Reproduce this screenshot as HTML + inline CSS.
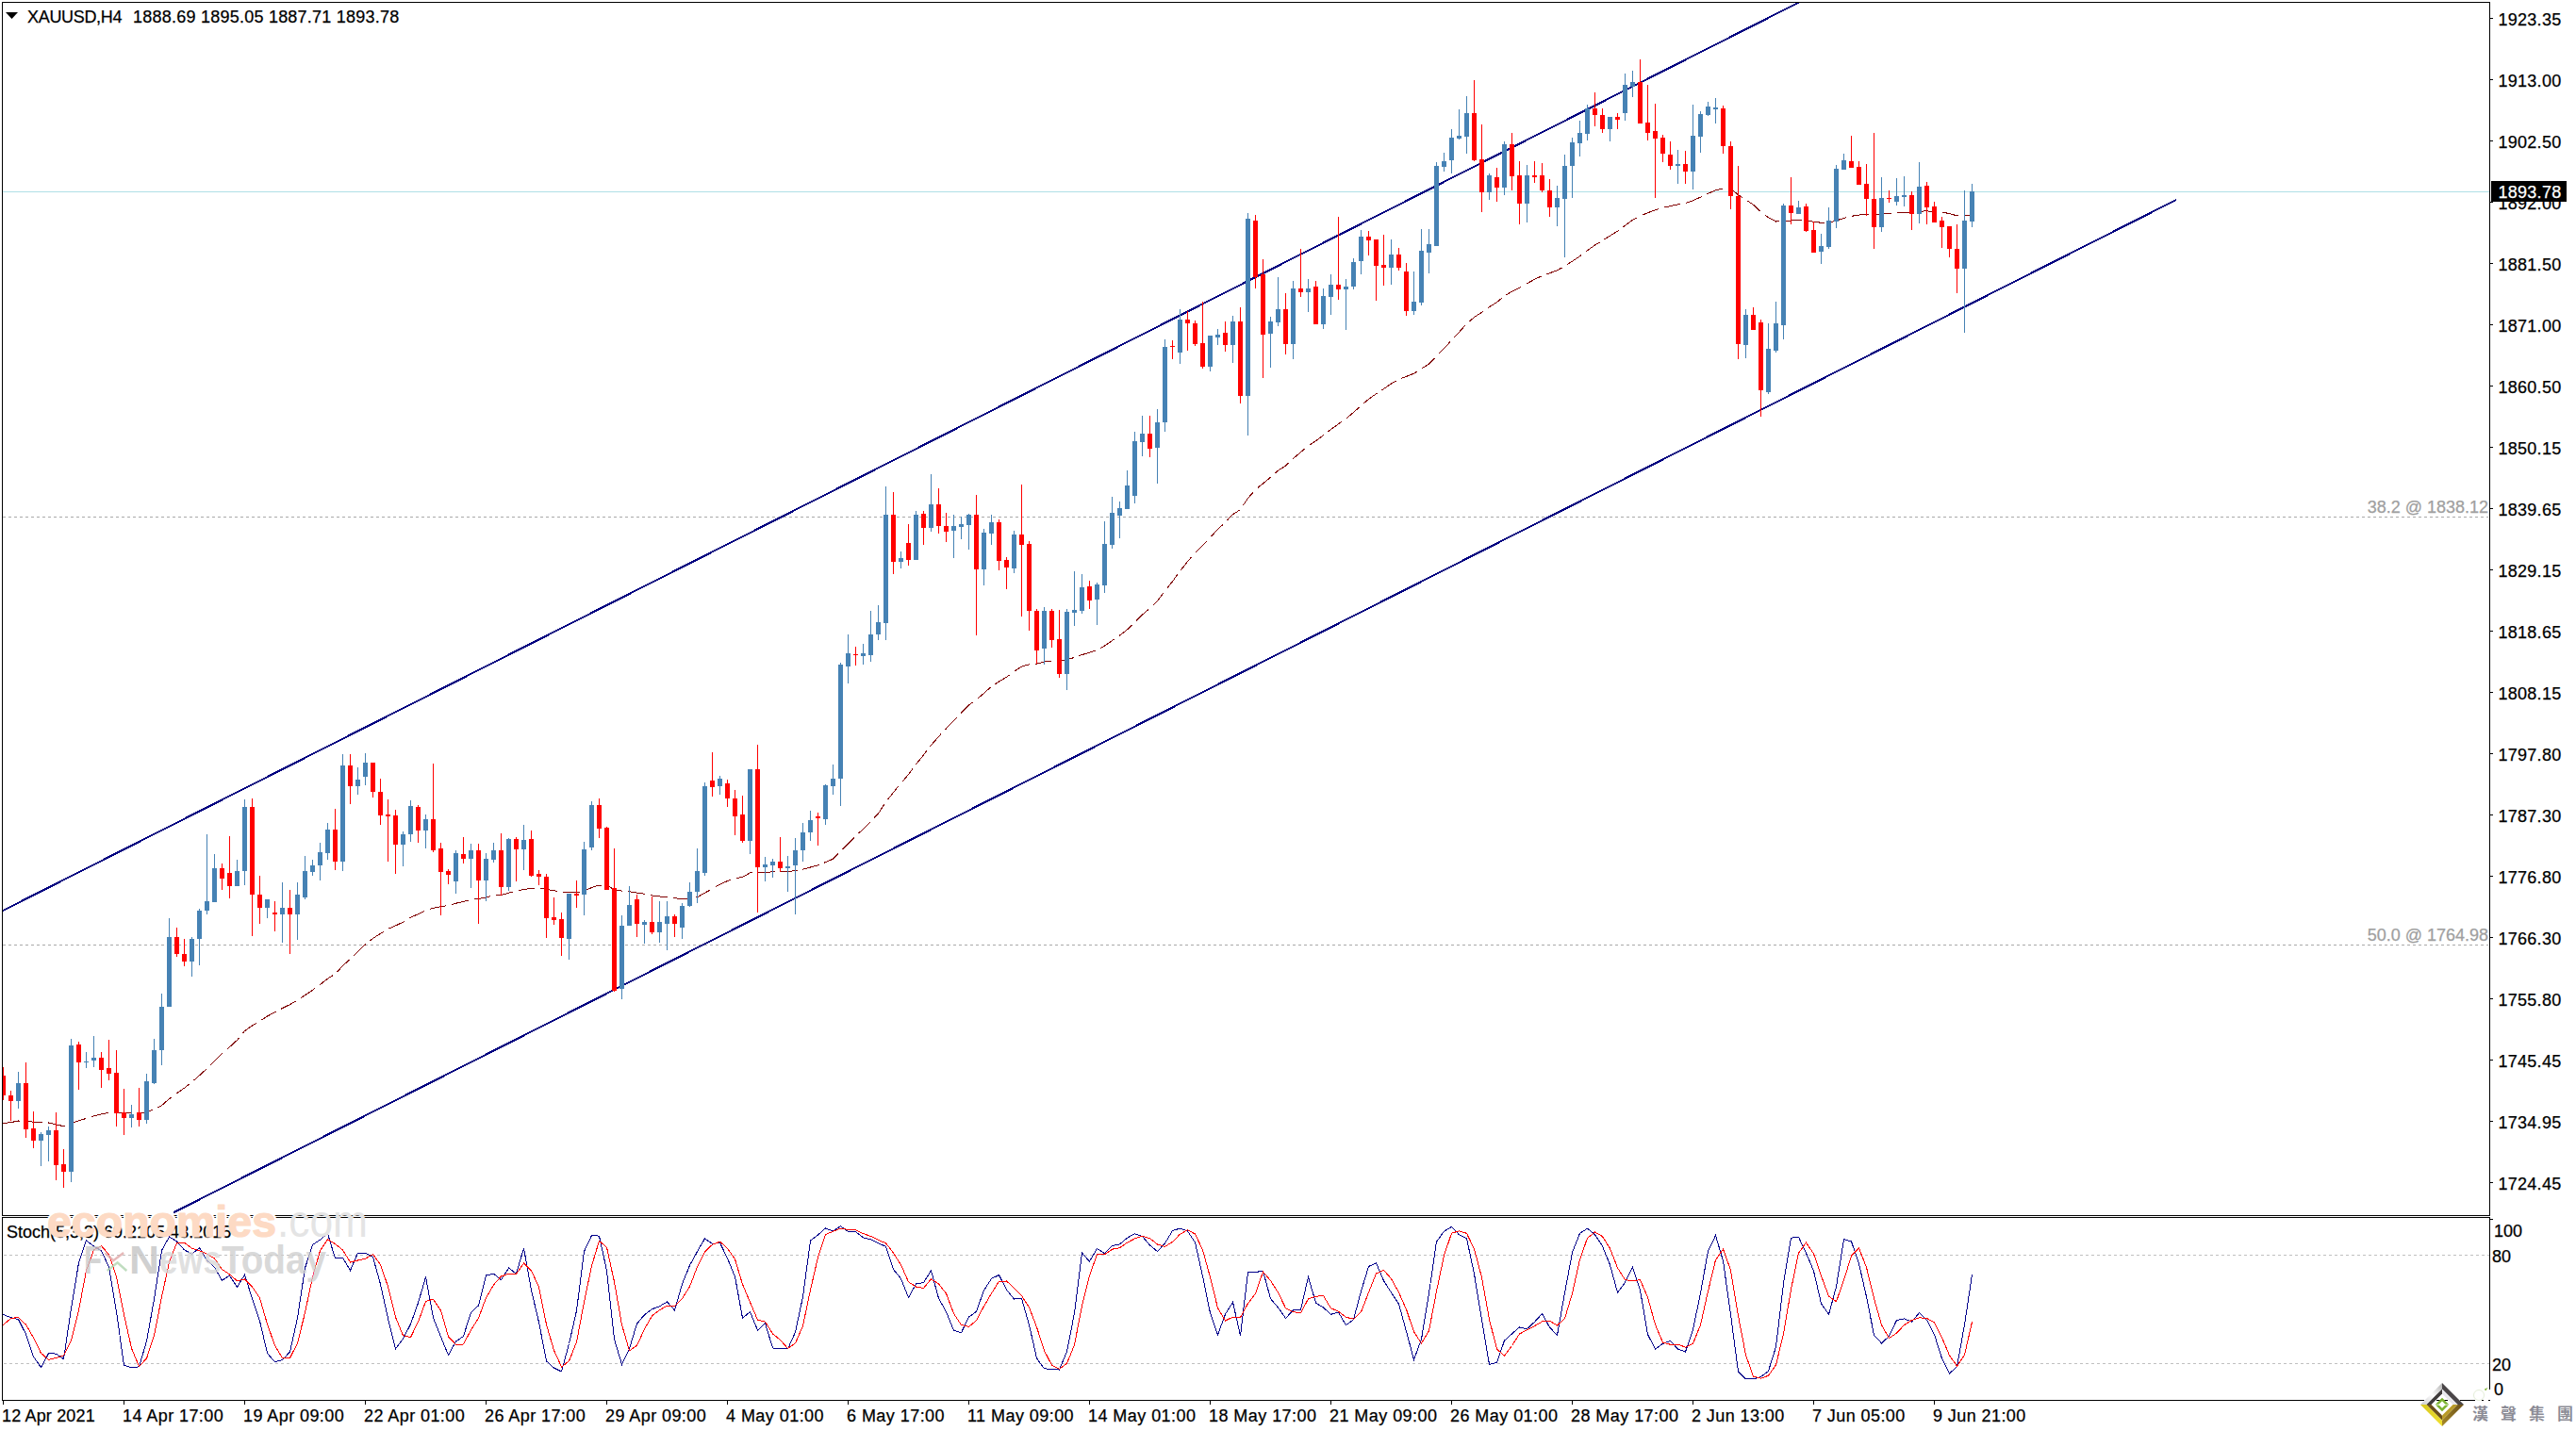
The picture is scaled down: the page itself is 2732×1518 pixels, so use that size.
<!DOCTYPE html><html><head><meta charset="utf-8"><title>XAUUSD,H4</title><style>
html,body{margin:0;padding:0;background:#fff;}
body{width:2732px;height:1518px;overflow:hidden;position:relative;}
svg{position:absolute;left:0;top:0;}
.t{font-family:"Liberation Sans",Arial,sans-serif;font-size:18px;fill:#000;stroke:#000;stroke-width:0.25px;}
</style></head><body>
<svg width="2732" height="1518" viewBox="0 0 2732 1518">
<defs><clipPath id="cm"><rect x="3" y="3" width="2637" height="1286"/></clipPath>
<clipPath id="ci"><rect x="3" y="1292" width="2637" height="193"/></clipPath></defs>
<g clip-path="url(#cm)">
<rect x="3" y="203" width="2637" height="1" fill="#B0E0E6" shape-rendering="crispEdges"/>
<line x1="3" y1="548.5" x2="2639" y2="548.5" stroke="#A9A9A9" stroke-width="1" stroke-dasharray="3 3" shape-rendering="crispEdges"/>
<line x1="3" y1="1002.5" x2="2639" y2="1002.5" stroke="#A9A9A9" stroke-width="1" stroke-dasharray="3 3" shape-rendering="crispEdges"/>
<line x1="0" y1="967.52" x2="1912" y2="0.43" stroke="#000080" stroke-width="2" shape-rendering="crispEdges"/>
<line x1="184.8" y1="1285.90" x2="2307.5" y2="212.24" stroke="#000080" stroke-width="2" shape-rendering="crispEdges" stroke-linecap="round"/>
<polyline points="3.5,1191.56 11.5,1190.62 19.5,1189.00 27.5,1189.35 35.5,1190.16 43.5,1190.67 51.5,1191.00 59.5,1192.77 67.5,1194.74 75.5,1191.38 83.5,1188.86 91.5,1186.39 99.5,1183.87 107.5,1181.95 115.5,1180.27 123.5,1180.30 131.5,1180.52 139.5,1180.58 147.5,1180.87 155.5,1179.54 163.5,1176.96 171.5,1172.67 179.5,1165.68 187.5,1159.66 195.5,1154.18 203.5,1147.96 211.5,1140.80 219.5,1133.53 227.5,1125.21 235.5,1117.63 243.5,1110.67 251.5,1103.37 259.5,1093.67 267.5,1087.99 275.5,1083.09 283.5,1078.05 291.5,1073.81 299.5,1069.47 307.5,1065.59 315.5,1061.03 323.5,1055.68 331.5,1050.29 339.5,1044.56 347.5,1038.13 355.5,1033.27 363.5,1024.59 371.5,1017.14 379.5,1009.68 387.5,1001.82 395.5,995.47 403.5,990.36 411.5,985.47 419.5,981.94 427.5,978.14 435.5,973.31 443.5,969.70 451.5,965.76 459.5,963.25 467.5,961.75 475.5,960.43 483.5,958.25 491.5,956.39 499.5,954.26 507.5,953.47 515.5,951.82 523.5,949.86 531.5,949.53 539.5,947.19 547.5,945.39 555.5,943.27 563.5,942.70 571.5,942.20 579.5,943.46 587.5,944.74 595.5,946.71 603.5,946.76 611.5,946.89 619.5,945.10 627.5,941.52 635.5,939.06 643.5,939.24 651.5,943.61 659.5,945.14 667.5,945.70 675.5,947.07 683.5,948.29 691.5,949.88 699.5,950.96 707.5,951.80 715.5,952.89 723.5,953.22 731.5,952.92 739.5,951.77 747.5,947.16 755.5,942.76 763.5,938.17 771.5,934.59 779.5,931.91 787.5,930.37 795.5,925.89 803.5,925.65 811.5,925.32 819.5,924.88 827.5,924.72 835.5,924.50 843.5,923.63 851.5,922.05 859.5,920.01 867.5,917.95 875.5,914.62 883.5,911.14 891.5,903.05 899.5,894.81 907.5,886.99 915.5,879.38 923.5,871.28 931.5,862.99 939.5,850.57 947.5,840.58 955.5,830.85 963.5,821.55 971.5,810.75 979.5,800.90 987.5,790.48 995.5,781.36 1003.5,772.82 1011.5,764.40 1019.5,756.24 1027.5,748.00 1035.5,742.34 1043.5,735.39 1051.5,728.29 1059.5,723.05 1067.5,718.29 1075.5,712.36 1083.5,707.09 1091.5,704.77 1099.5,704.19 1107.5,701.99 1115.5,701.09 1123.5,701.62 1131.5,699.56 1139.5,697.51 1147.5,694.58 1155.5,692.32 1163.5,689.48 1171.5,685.08 1179.5,679.56 1187.5,674.05 1195.5,667.82 1203.5,659.96 1211.5,652.14 1219.5,645.25 1227.5,637.49 1235.5,626.90 1243.5,616.76 1251.5,605.88 1259.5,595.57 1267.5,586.53 1275.5,578.79 1283.5,570.06 1291.5,561.63 1299.5,553.95 1307.5,545.61 1315.5,540.70 1323.5,528.59 1331.5,519.38 1339.5,512.94 1347.5,506.21 1355.5,499.23 1363.5,493.96 1371.5,486.60 1379.5,479.66 1387.5,472.86 1395.5,467.81 1403.5,461.80 1411.5,455.55 1419.5,449.73 1427.5,444.03 1435.5,437.53 1443.5,430.23 1451.5,423.35 1459.5,417.81 1467.5,412.57 1475.5,407.00 1483.5,402.19 1491.5,399.36 1499.5,396.26 1507.5,391.17 1515.5,385.99 1523.5,377.77 1531.5,369.67 1539.5,360.91 1547.5,352.41 1555.5,343.30 1563.5,336.50 1571.5,331.31 1579.5,325.60 1587.5,320.62 1595.5,314.06 1603.5,309.08 1611.5,305.42 1619.5,300.74 1627.5,296.30 1635.5,292.62 1643.5,289.78 1651.5,286.67 1659.5,282.31 1667.5,277.17 1675.5,271.84 1683.5,265.69 1691.5,260.07 1699.5,255.25 1707.5,250.11 1715.5,245.28 1723.5,239.19 1731.5,233.22 1739.5,229.22 1747.5,225.77 1755.5,222.68 1763.5,220.34 1771.5,218.62 1779.5,216.89 1787.5,215.52 1795.5,212.73 1803.5,209.12 1811.5,205.37 1819.5,201.80 1827.5,199.97 1835.5,200.28 1843.5,206.74 1851.5,211.75 1859.5,217.17 1867.5,224.90 1875.5,230.61 1883.5,235.03 1891.5,234.36 1899.5,234.02 1907.5,233.45 1915.5,233.91 1923.5,235.24 1931.5,236.26 1939.5,236.19 1947.5,233.96 1955.5,231.45 1963.5,229.34 1971.5,228.02 1979.5,227.36 1987.5,227.89 1995.5,227.19 2003.5,226.55 2011.5,225.82 2019.5,225.09 2027.5,225.16 2035.5,224.09 2043.5,223.93 2051.5,224.40 2059.5,225.05 2067.5,226.59 2075.5,228.86 2083.5,229.08 2091.5,228.06" fill="none" stroke="#800000" stroke-width="1" stroke-dasharray="18 6" shape-rendering="crispEdges"/>
<path d="M19 1137h1v39h-1zM17 1149h5v19h-5zM43 1201h1v36h-1zM41 1203h5v7h-5zM51 1195h1v37h-1zM49 1199h5v5h-5zM75 1102h1v152h-1zM73 1109h5v134h-5zM91 1116h1v17h-1zM89 1126h5v1h-5zM99 1099h1v33h-1zM97 1122h5v3h-5zM139 1172h1v24h-1zM137 1182h5v4h-5zM155 1139h1v53h-1zM153 1147h5v41h-5zM163 1102h1v48h-1zM161 1114h5v35h-5zM171 1054h1v76h-1zM169 1068h5v46h-5zM179 974h1v94h-1zM177 994h5v74h-5zM203 994h1v42h-1zM201 996h5v24h-5zM211 964h1v60h-1zM209 966h5v30h-5zM219 885h1v85h-1zM217 956h5v10h-5zM227 906h1v51h-1zM225 921h5v36h-5zM251 912h1v28h-1zM249 924h5v16h-5zM259 848h1v91h-1zM257 856h5v68h-5zM283 954h1v20h-1zM281 954h5v9h-5zM299 936h1v64h-1zM297 963h5v7h-5zM315 936h1v61h-1zM313 949h5v21h-5zM323 908h1v46h-1zM321 924h5v28h-5zM331 912h1v17h-1zM329 918h5v7h-5zM339 894h1v40h-1zM337 904h5v14h-5zM347 873h1v39h-1zM345 880h5v25h-5zM363 800h1v124h-1zM361 812h5v102h-5zM379 814h1v29h-1zM377 827h5v7h-5zM387 799h1v34h-1zM385 809h5v15h-5zM427 882h1v37h-1zM425 885h5v11h-5zM435 849h1v44h-1zM433 855h5v30h-5zM451 864h1v36h-1zM449 869h5v12h-5zM483 902h1v46h-1zM481 905h5v30h-5zM499 895h1v47h-1zM497 902h5v9h-5zM515 905h1v51h-1zM513 911h5v23h-5zM523 894h1v21h-1zM521 902h5v10h-5zM539 889h1v56h-1zM537 890h5v51h-5zM555 875h1v48h-1zM553 891h5v10h-5zM603 948h1v70h-1zM601 948h5v48h-5zM619 893h1v78h-1zM617 901h5v48h-5zM627 850h1v52h-1zM625 854h5v45h-5zM659 971h1v89h-1zM657 982h5v67h-5zM667 940h1v42h-1zM665 960h5v22h-5zM683 976h1v25h-1zM681 978h5v3h-5zM699 956h1v44h-1zM697 978h5v11h-5zM707 956h1v52h-1zM705 972h5v8h-5zM723 958h1v38h-1zM721 961h5v23h-5zM731 936h1v26h-1zM729 946h5v15h-5zM739 900h1v58h-1zM737 924h5v22h-5zM747 830h1v99h-1zM745 834h5v92h-5zM763 823h1v20h-1zM761 826h5v8h-5zM795 816h1v90h-1zM793 816h5v76h-5zM811 909h1v26h-1zM809 917h5v3h-5zM819 911h1v20h-1zM817 914h5v4h-5zM835 908h1v38h-1zM833 919h5v2h-5zM843 889h1v81h-1zM841 902h5v16h-5zM851 873h1v41h-1zM849 883h5v19h-5zM859 860h1v32h-1zM857 870h5v13h-5zM875 832h1v43h-1zM873 833h5v36h-5zM883 811h1v32h-1zM881 826h5v8h-5zM891 703h1v152h-1zM889 705h5v121h-5zM899 673h1v52h-1zM897 693h5v14h-5zM915 683h1v22h-1zM913 693h5v3h-5zM923 648h1v54h-1zM921 673h5v22h-5zM931 642h1v37h-1zM929 660h5v13h-5zM939 516h1v163h-1zM937 546h5v115h-5zM955 585h1v18h-1zM953 592h5v4h-5zM971 542h1v52h-1zM969 546h5v48h-5zM987 503h1v61h-1zM985 535h5v25h-5zM1011 546h1v46h-1zM1009 558h5v5h-5zM1019 548h1v24h-1zM1017 556h5v3h-5zM1027 545h1v38h-1zM1025 546h5v11h-5zM1043 561h1v60h-1zM1041 565h5v39h-5zM1051 546h1v32h-1zM1049 554h5v12h-5zM1075 563h1v45h-1zM1073 567h5v36h-5zM1107 644h1v61h-1zM1105 648h5v40h-5zM1131 646h1v86h-1zM1129 649h5v66h-5zM1139 606h1v58h-1zM1137 647h5v3h-5zM1147 609h1v42h-1zM1145 623h5v25h-5zM1163 618h1v45h-1zM1161 620h5v16h-5zM1171 553h1v76h-1zM1169 577h5v44h-5zM1179 527h1v55h-1zM1177 544h5v34h-5zM1187 532h1v39h-1zM1185 539h5v8h-5zM1195 499h1v41h-1zM1193 515h5v25h-5zM1203 458h1v76h-1zM1201 468h5v58h-5zM1211 441h1v43h-1zM1209 460h5v9h-5zM1227 434h1v79h-1zM1225 448h5v27h-5zM1235 360h1v98h-1zM1233 368h5v80h-5zM1251 328h1v58h-1zM1249 339h5v35h-5zM1283 356h1v38h-1zM1281 356h5v33h-5zM1291 349h1v17h-1zM1289 355h5v3h-5zM1307 335h1v50h-1zM1305 341h5v25h-5zM1323 226h1v236h-1zM1321 232h5v188h-5zM1347 336h1v54h-1zM1345 341h5v13h-5zM1355 294h1v52h-1zM1353 328h5v14h-5zM1371 298h1v83h-1zM1369 306h5v59h-5zM1387 296h1v35h-1zM1385 306h5v4h-5zM1403 306h1v43h-1zM1401 314h5v30h-5zM1411 291h1v43h-1zM1409 302h5v13h-5zM1427 296h1v54h-1zM1425 304h5v3h-5zM1435 274h1v33h-1zM1433 278h5v26h-5zM1443 244h1v47h-1zM1441 251h5v26h-5zM1475 254h1v48h-1zM1473 270h5v14h-5zM1499 288h1v46h-1zM1497 320h5v10h-5zM1507 243h1v81h-1zM1505 266h5v55h-5zM1515 243h1v47h-1zM1513 259h5v9h-5zM1523 172h1v89h-1zM1521 176h5v85h-5zM1531 162h1v20h-1zM1529 171h5v6h-5zM1539 137h1v47h-1zM1537 146h5v24h-5zM1547 116h1v32h-1zM1545 144h5v3h-5zM1555 102h1v61h-1zM1553 120h5v25h-5zM1579 184h1v28h-1zM1577 186h5v18h-5zM1595 150h1v57h-1zM1593 153h5v46h-5zM1619 175h1v61h-1zM1617 186h5v30h-5zM1651 197h1v43h-1zM1649 210h5v10h-5zM1659 164h1v109h-1zM1657 176h5v35h-5zM1667 146h1v64h-1zM1665 151h5v25h-5zM1675 128h1v38h-1zM1673 141h5v11h-5zM1683 111h1v38h-1zM1681 115h5v27h-5zM1707 124h1v26h-1zM1705 124h5v13h-5zM1723 78h1v50h-1zM1721 90h5v30h-5zM1731 75h1v28h-1zM1729 87h5v5h-5zM1779 159h1v36h-1zM1777 174h5v2h-5zM1795 111h1v90h-1zM1793 144h5v38h-5zM1803 118h1v44h-1zM1801 121h5v24h-5zM1811 108h1v15h-1zM1809 113h5v9h-5zM1819 104h1v27h-1zM1817 114h5v2h-5zM1851 328h1v52h-1zM1849 334h5v32h-5zM1875 343h1v75h-1zM1873 370h5v46h-5zM1883 320h1v54h-1zM1881 343h5v29h-5zM1891 216h1v144h-1zM1889 218h5v127h-5zM1907 213h1v14h-1zM1905 220h5v7h-5zM1931 248h1v32h-1zM1929 261h5v6h-5zM1939 220h1v44h-1zM1937 234h5v28h-5zM1947 175h1v67h-1zM1945 179h5v56h-5zM1955 163h1v17h-1zM1953 170h5v10h-5zM1995 188h1v58h-1zM1993 210h5v31h-5zM2011 189h1v29h-1zM2009 208h5v6h-5zM2019 187h1v32h-1zM2017 207h5v2h-5zM2035 172h1v65h-1zM2033 198h5v29h-5zM2083 202h1v151h-1zM2081 234h5v51h-5zM2091 195h1v46h-1zM2089 203h5v32h-5z" fill="#4682B4" shape-rendering="crispEdges"/>
<path d="M3 1132h1v35h-1zM1 1141h5v21h-5zM11 1157h1v32h-1zM9 1162h5v6h-5zM27 1127h1v80h-1zM25 1149h5v49h-5zM35 1179h1v39h-1zM33 1197h5v13h-5zM59 1180h1v72h-1zM57 1199h5v37h-5zM67 1219h1v41h-1zM65 1235h5v8h-5zM83 1105h1v51h-1zM81 1108h5v19h-5zM107 1116h1v38h-1zM105 1122h5v13h-5zM115 1103h1v43h-1zM113 1133h5v6h-5zM123 1114h1v81h-1zM121 1138h5v43h-5zM131 1155h1v49h-1zM129 1180h5v6h-5zM147 1154h1v41h-1zM145 1180h5v8h-5zM187 984h1v31h-1zM185 994h5v18h-5zM195 996h1v29h-1zM193 1012h5v8h-5zM235 916h1v28h-1zM233 921h5v11h-5zM243 887h1v66h-1zM241 926h5v14h-5zM267 847h1v146h-1zM265 856h5v93h-5zM275 929h1v51h-1zM273 949h5v14h-5zM291 956h1v32h-1zM289 968h5v2h-5zM307 944h1v68h-1zM305 963h5v7h-5zM355 858h1v65h-1zM353 880h5v34h-5zM371 800h1v53h-1zM369 812h5v22h-5zM395 809h1v37h-1zM393 809h5v31h-5zM403 826h1v49h-1zM401 840h5v25h-5zM411 848h1v66h-1zM409 864h5v2h-5zM419 859h1v68h-1zM417 865h5v31h-5zM443 854h1v40h-1zM441 856h5v25h-5zM459 810h1v94h-1zM457 869h5v33h-5zM467 894h1v77h-1zM465 900h5v25h-5zM475 922h1v16h-1zM473 924h5v4h-5zM491 888h1v28h-1zM489 906h5v5h-5zM507 895h1v85h-1zM505 902h5v32h-5zM531 884h1v66h-1zM529 902h5v39h-5zM547 888h1v47h-1zM545 890h5v11h-5zM563 881h1v49h-1zM561 890h5v39h-5zM571 923h1v16h-1zM569 927h5v3h-5zM579 927h1v68h-1zM577 930h5v44h-5zM587 952h1v29h-1zM585 973h5v3h-5zM595 968h1v46h-1zM593 975h5v20h-5zM611 934h1v29h-1zM609 948h5v2h-5zM635 847h1v42h-1zM633 854h5v25h-5zM643 877h1v67h-1zM641 878h5v66h-5zM651 900h1v152h-1zM649 942h5v109h-5zM675 949h1v45h-1zM673 954h5v26h-5zM691 951h1v40h-1zM689 978h5v11h-5zM715 970h1v24h-1zM713 972h5v8h-5zM755 798h1v47h-1zM753 828h5v7h-5zM771 827h1v29h-1zM769 831h5v16h-5zM779 838h1v48h-1zM777 847h5v19h-5zM787 844h1v50h-1zM785 864h5v28h-5zM803 790h1v178h-1zM801 816h5v104h-5zM827 888h1v37h-1zM825 914h5v7h-5zM867 862h1v35h-1zM865 866h5v2h-5zM907 686h1v20h-1zM905 694h5v1h-5zM947 522h1v87h-1zM945 546h5v50h-5zM963 556h1v44h-1zM961 576h5v18h-5zM979 542h1v36h-1zM977 545h5v15h-5zM995 518h1v48h-1zM993 535h5v23h-5zM1003 544h1v31h-1zM1001 558h5v6h-5zM1035 525h1v149h-1zM1033 546h5v58h-5zM1059 551h1v54h-1zM1057 554h5v41h-5zM1067 591h1v34h-1zM1065 594h5v8h-5zM1083 514h1v140h-1zM1081 567h5v11h-5zM1091 574h1v95h-1zM1089 577h5v71h-5zM1099 646h1v58h-1zM1097 648h5v42h-5zM1115 646h1v41h-1zM1113 648h5v31h-5zM1123 647h1v72h-1zM1121 678h5v37h-5zM1155 616h1v30h-1zM1153 622h5v15h-5zM1219 441h1v44h-1zM1217 460h5v16h-5zM1243 361h1v20h-1zM1241 367h5v1h-5zM1259 330h1v42h-1zM1257 339h5v4h-5zM1267 340h1v27h-1zM1265 343h5v22h-5zM1275 320h1v71h-1zM1273 364h5v25h-5zM1299 341h1v32h-1zM1297 353h5v13h-5zM1315 326h1v102h-1zM1313 341h5v79h-5zM1331 228h1v78h-1zM1329 234h5v60h-5zM1339 275h1v126h-1zM1337 291h5v64h-5zM1363 311h1v65h-1zM1361 328h5v37h-5zM1379 264h1v51h-1zM1377 306h5v4h-5zM1395 298h1v46h-1zM1393 304h5v40h-5zM1419 230h1v88h-1zM1417 302h5v5h-5zM1451 245h1v26h-1zM1449 251h5v4h-5zM1459 254h1v65h-1zM1457 254h5v28h-5zM1467 249h1v54h-1zM1465 281h5v3h-5zM1483 263h1v24h-1zM1481 270h5v14h-5zM1491 279h1v56h-1zM1489 288h5v42h-5zM1563 85h1v86h-1zM1561 120h5v50h-5zM1571 132h1v93h-1zM1569 169h5v35h-5zM1587 178h1v36h-1zM1585 188h5v11h-5zM1603 141h1v61h-1zM1601 153h5v34h-5zM1611 171h1v67h-1zM1609 186h5v30h-5zM1627 171h1v23h-1zM1625 186h5v2h-5zM1635 173h1v31h-1zM1633 186h5v16h-5zM1643 190h1v40h-1zM1641 202h5v18h-5zM1691 98h1v36h-1zM1689 115h5v7h-5zM1699 115h1v26h-1zM1697 122h5v15h-5zM1715 120h1v17h-1zM1713 124h5v3h-5zM1739 63h1v68h-1zM1737 87h5v44h-5zM1747 90h1v59h-1zM1745 130h5v11h-5zM1755 110h1v100h-1zM1753 139h5v8h-5zM1763 143h1v29h-1zM1761 146h5v17h-5zM1771 150h1v30h-1zM1769 164h5v12h-5zM1787 160h1v35h-1zM1785 174h5v8h-5zM1827 112h1v51h-1zM1825 115h5v40h-5zM1835 150h1v72h-1zM1833 155h5v53h-5zM1843 176h1v205h-1zM1841 208h5v157h-5zM1859 326h1v24h-1zM1857 334h5v16h-5zM1867 339h1v103h-1zM1865 342h5v72h-5zM1899 188h1v50h-1zM1897 218h5v8h-5zM1915 216h1v30h-1zM1913 219h5v26h-5zM1923 235h1v33h-1zM1921 244h5v24h-5zM1963 144h1v34h-1zM1961 171h5v7h-5zM1971 171h1v25h-1zM1969 177h5v19h-5zM1979 174h1v55h-1zM1977 195h5v16h-5zM1987 141h1v123h-1zM1985 211h5v30h-5zM2003 202h1v13h-1zM2001 210h5v1h-5zM2027 203h1v41h-1zM2025 207h5v20h-5zM2043 193h1v45h-1zM2041 197h5v23h-5zM2051 214h1v22h-1zM2049 219h5v17h-5zM2059 230h1v33h-1zM2057 234h5v7h-5zM2067 240h1v33h-1zM2065 240h5v24h-5zM2075 238h1v73h-1zM2073 264h5v21h-5z" fill="#FF0000" shape-rendering="crispEdges"/>
</g>
<g clip-path="url(#ci)">
<line x1="4" y1="1331.5" x2="2640" y2="1331.5" stroke="#C0C0C0" stroke-width="1" stroke-dasharray="3 3" shape-rendering="crispEdges"/>
<line x1="4" y1="1446.5" x2="2640" y2="1446.5" stroke="#C0C0C0" stroke-width="1" stroke-dasharray="3 3" shape-rendering="crispEdges"/>
<polyline points="3.0,1394.2 11.5,1397.7 19.5,1399.6 27.5,1415.3 35.5,1439.2 43.5,1450.5 51.5,1435.7 59.5,1436.1 67.5,1441.8 75.5,1388.0 83.5,1339.6 91.5,1315.9 99.5,1322.1 107.5,1326.7 115.5,1344.0 123.5,1391.5 131.5,1448.4 139.5,1450.6 147.5,1449.9 155.5,1422.5 163.5,1378.1 171.5,1326.5 179.5,1312.0 187.5,1316.9 195.5,1325.9 203.5,1330.2 211.5,1323.8 219.5,1336.9 227.5,1344.4 235.5,1358.2 243.5,1353.2 251.5,1365.4 259.5,1352.3 267.5,1377.5 275.5,1401.3 283.5,1435.5 291.5,1444.8 299.5,1442.5 307.5,1434.0 315.5,1398.1 323.5,1345.1 331.5,1320.6 339.5,1315.2 347.5,1308.5 355.5,1335.0 363.5,1334.3 371.5,1347.6 379.5,1329.1 387.5,1329.1 395.5,1333.4 403.5,1362.3 411.5,1398.6 419.5,1430.9 427.5,1420.1 435.5,1404.6 443.5,1382.2 451.5,1354.6 459.5,1397.8 467.5,1418.1 475.5,1437.5 483.5,1423.1 491.5,1417.5 499.5,1392.2 507.5,1384.9 515.5,1353.0 523.5,1351.1 531.5,1357.7 539.5,1345.0 547.5,1351.2 555.5,1324.0 563.5,1368.6 571.5,1402.6 579.5,1443.9 587.5,1451.1 595.5,1454.9 603.5,1425.5 611.5,1390.4 619.5,1327.6 627.5,1310.5 635.5,1311.1 643.5,1347.9 651.5,1420.5 659.5,1447.4 667.5,1430.6 675.5,1404.1 683.5,1394.8 691.5,1388.8 699.5,1385.7 707.5,1381.0 715.5,1389.9 723.5,1362.0 731.5,1342.3 739.5,1327.7 747.5,1313.8 755.5,1319.5 763.5,1318.3 771.5,1334.9 779.5,1354.2 787.5,1398.2 795.5,1391.6 803.5,1411.2 811.5,1403.6 819.5,1430.0 827.5,1430.4 835.5,1431.0 843.5,1413.2 851.5,1375.6 859.5,1316.0 867.5,1309.9 875.5,1303.0 883.5,1305.9 891.5,1300.7 899.5,1306.5 907.5,1306.7 915.5,1312.8 923.5,1314.9 931.5,1318.7 939.5,1322.4 947.5,1346.5 955.5,1356.4 963.5,1376.5 971.5,1362.0 979.5,1360.6 987.5,1347.9 995.5,1377.3 1003.5,1391.5 1011.5,1411.3 1019.5,1413.7 1027.5,1397.1 1035.5,1391.3 1043.5,1368.7 1051.5,1356.4 1059.5,1352.5 1067.5,1368.1 1075.5,1378.1 1083.5,1377.3 1091.5,1405.4 1099.5,1440.9 1107.5,1451.9 1115.5,1452.3 1123.5,1453.1 1131.5,1433.6 1139.5,1392.9 1147.5,1329.0 1155.5,1338.2 1163.5,1324.5 1171.5,1329.6 1179.5,1321.6 1187.5,1319.9 1195.5,1313.1 1203.5,1308.7 1211.5,1311.4 1219.5,1321.0 1227.5,1327.5 1235.5,1318.9 1243.5,1305.5 1251.5,1303.1 1259.5,1306.0 1267.5,1317.9 1275.5,1353.9 1283.5,1392.9 1291.5,1415.9 1299.5,1394.1 1307.5,1381.3 1315.5,1416.9 1323.5,1350.0 1331.5,1349.5 1339.5,1348.2 1347.5,1377.7 1355.5,1387.0 1363.5,1398.4 1371.5,1390.0 1379.5,1389.3 1387.5,1354.5 1395.5,1382.1 1403.5,1387.0 1411.5,1394.3 1419.5,1392.1 1427.5,1405.6 1435.5,1399.9 1443.5,1369.8 1451.5,1343.5 1459.5,1339.7 1467.5,1358.6 1475.5,1371.1 1483.5,1383.3 1491.5,1412.4 1499.5,1442.3 1507.5,1420.6 1515.5,1371.9 1523.5,1317.1 1531.5,1306.3 1539.5,1301.3 1547.5,1309.9 1555.5,1313.6 1563.5,1351.4 1571.5,1400.3 1579.5,1447.4 1587.5,1445.4 1595.5,1422.1 1603.5,1414.9 1611.5,1408.0 1619.5,1409.7 1627.5,1402.3 1635.5,1393.6 1643.5,1408.1 1651.5,1416.4 1659.5,1371.3 1667.5,1328.6 1675.5,1308.3 1683.5,1303.2 1691.5,1309.7 1699.5,1321.9 1707.5,1341.7 1715.5,1371.1 1723.5,1360.4 1731.5,1344.2 1739.5,1368.7 1747.5,1415.5 1755.5,1431.1 1763.5,1425.4 1771.5,1422.4 1779.5,1431.0 1787.5,1434.0 1795.5,1410.5 1803.5,1371.7 1811.5,1327.1 1819.5,1310.6 1827.5,1337.6 1835.5,1394.5 1843.5,1455.0 1851.5,1462.9 1859.5,1462.9 1867.5,1460.5 1875.5,1454.4 1883.5,1428.7 1891.5,1361.6 1899.5,1313.2 1907.5,1312.3 1915.5,1329.3 1923.5,1348.2 1931.5,1382.8 1939.5,1394.4 1947.5,1364.9 1955.5,1314.7 1963.5,1317.0 1971.5,1340.4 1979.5,1375.6 1987.5,1416.2 1995.5,1424.9 2003.5,1417.4 2011.5,1400.4 2019.5,1398.9 2027.5,1402.0 2035.5,1392.7 2043.5,1400.4 2051.5,1415.6 2059.5,1441.0 2067.5,1456.9 2075.5,1449.7 2083.5,1405.2 2091.5,1352.3" fill="none" stroke="#00008B" stroke-width="1" shape-rendering="crispEdges"/>
<polyline points="3.0,1405.8 11.5,1398.6 19.5,1397.4 27.5,1405.2 35.5,1419.0 43.5,1435.4 51.5,1442.3 59.5,1440.4 67.5,1437.9 75.5,1422.0 83.5,1389.8 91.5,1347.8 99.5,1325.9 107.5,1321.6 115.5,1330.9 123.5,1354.1 131.5,1394.6 139.5,1430.2 147.5,1449.6 155.5,1441.0 163.5,1416.8 171.5,1375.7 179.5,1338.9 187.5,1318.5 195.5,1318.3 203.5,1324.3 211.5,1326.6 219.5,1330.3 227.5,1335.0 235.5,1346.5 243.5,1351.9 251.5,1358.9 259.5,1356.9 267.5,1365.0 275.5,1377.0 283.5,1404.7 291.5,1427.2 299.5,1440.9 307.5,1440.4 315.5,1424.9 323.5,1392.4 331.5,1354.6 339.5,1326.9 347.5,1314.8 355.5,1319.6 363.5,1326.0 371.5,1339.0 379.5,1337.0 387.5,1335.3 395.5,1330.5 403.5,1341.6 411.5,1364.7 419.5,1397.3 427.5,1416.6 435.5,1418.5 443.5,1402.3 451.5,1380.4 459.5,1378.2 467.5,1390.2 475.5,1417.8 483.5,1426.3 491.5,1426.0 499.5,1410.9 507.5,1398.2 515.5,1376.7 523.5,1363.0 531.5,1354.0 539.5,1351.3 547.5,1351.3 555.5,1340.1 563.5,1347.9 571.5,1365.1 579.5,1405.0 587.5,1432.5 595.5,1450.0 603.5,1443.8 611.5,1423.6 619.5,1381.2 627.5,1342.8 635.5,1316.4 643.5,1323.2 651.5,1359.8 659.5,1405.3 667.5,1432.8 675.5,1427.4 683.5,1409.8 691.5,1395.9 699.5,1389.8 707.5,1385.2 715.5,1385.5 723.5,1377.6 731.5,1364.7 739.5,1344.0 747.5,1327.9 755.5,1320.3 763.5,1317.2 771.5,1324.2 779.5,1335.8 787.5,1362.4 795.5,1381.3 803.5,1400.3 811.5,1402.1 819.5,1414.9 827.5,1421.3 835.5,1430.5 843.5,1424.9 851.5,1406.6 859.5,1368.3 867.5,1333.8 875.5,1309.6 883.5,1306.3 891.5,1303.2 899.5,1304.4 907.5,1304.6 915.5,1308.6 923.5,1311.4 931.5,1315.4 939.5,1318.7 947.5,1329.2 955.5,1341.7 963.5,1359.8 971.5,1365.0 979.5,1366.4 987.5,1356.9 995.5,1361.9 1003.5,1372.2 1011.5,1393.4 1019.5,1405.5 1027.5,1407.4 1035.5,1400.7 1043.5,1385.7 1051.5,1372.1 1059.5,1359.2 1067.5,1359.0 1075.5,1366.2 1083.5,1374.5 1091.5,1386.9 1099.5,1407.9 1107.5,1432.7 1115.5,1448.3 1123.5,1452.4 1131.5,1446.3 1139.5,1426.5 1147.5,1385.2 1155.5,1353.4 1163.5,1330.6 1171.5,1330.8 1179.5,1325.2 1187.5,1323.7 1195.5,1318.2 1203.5,1313.9 1211.5,1311.1 1219.5,1313.7 1227.5,1320.0 1235.5,1322.5 1243.5,1317.3 1251.5,1309.2 1259.5,1304.8 1267.5,1309.0 1275.5,1325.9 1283.5,1354.9 1291.5,1387.6 1299.5,1401.0 1307.5,1397.1 1315.5,1397.5 1323.5,1382.7 1331.5,1372.1 1339.5,1349.2 1347.5,1358.5 1355.5,1371.0 1363.5,1387.7 1371.5,1391.8 1379.5,1392.6 1387.5,1377.9 1395.5,1375.3 1403.5,1374.5 1411.5,1387.8 1419.5,1391.1 1427.5,1397.3 1435.5,1399.2 1443.5,1391.8 1451.5,1371.1 1459.5,1351.0 1467.5,1347.3 1475.5,1356.5 1483.5,1371.0 1491.5,1389.0 1499.5,1412.7 1507.5,1425.1 1515.5,1411.6 1523.5,1369.9 1531.5,1331.7 1539.5,1308.2 1547.5,1305.8 1555.5,1308.3 1563.5,1324.9 1571.5,1355.1 1579.5,1399.7 1587.5,1431.0 1595.5,1438.3 1603.5,1427.5 1611.5,1415.0 1619.5,1410.9 1627.5,1406.7 1635.5,1401.9 1643.5,1401.3 1651.5,1406.0 1659.5,1398.6 1667.5,1372.1 1675.5,1336.1 1683.5,1313.4 1691.5,1307.0 1699.5,1311.6 1707.5,1324.4 1715.5,1344.9 1723.5,1357.7 1731.5,1358.6 1739.5,1357.8 1747.5,1376.2 1755.5,1405.1 1763.5,1424.0 1771.5,1426.3 1779.5,1426.2 1787.5,1429.1 1795.5,1425.2 1803.5,1405.4 1811.5,1369.8 1819.5,1336.5 1827.5,1325.1 1835.5,1347.5 1843.5,1395.7 1851.5,1437.4 1859.5,1460.2 1867.5,1462.1 1875.5,1459.3 1883.5,1447.9 1891.5,1414.9 1899.5,1367.9 1907.5,1329.1 1915.5,1318.3 1923.5,1329.9 1931.5,1353.4 1939.5,1375.1 1947.5,1380.7 1955.5,1358.0 1963.5,1332.2 1971.5,1324.1 1979.5,1344.4 1987.5,1377.4 1995.5,1405.6 2003.5,1419.5 2011.5,1414.2 2019.5,1405.6 2027.5,1400.4 2035.5,1397.8 2043.5,1398.4 2051.5,1402.9 2059.5,1419.0 2067.5,1437.8 2075.5,1449.2 2083.5,1437.2 2091.5,1402.4" fill="none" stroke="#FF0000" stroke-width="1" shape-rendering="crispEdges"/>
</g>
<g fill="#000" shape-rendering="crispEdges">
<rect x="2" y="2" width="2639" height="1"/>
<rect x="2" y="2" width="1" height="1288"/>
<rect x="2640" y="2" width="1" height="1288"/>
<rect x="2" y="1289" width="2639" height="1"/>
<rect x="2" y="1291" width="2639" height="1"/>
<rect x="2" y="1291" width="1" height="195"/>
<rect x="2640" y="1291" width="1" height="183"/>
<rect x="2" y="1485" width="2639" height="1"/>
<rect x="2641" y="19" width="3" height="1"/>
<rect x="2641" y="84" width="3" height="1"/>
<rect x="2641" y="149" width="3" height="1"/>
<rect x="2641" y="214" width="3" height="1"/>
<rect x="2641" y="279" width="3" height="1"/>
<rect x="2641" y="344" width="3" height="1"/>
<rect x="2641" y="409" width="3" height="1"/>
<rect x="2641" y="474" width="3" height="1"/>
<rect x="2641" y="539" width="3" height="1"/>
<rect x="2641" y="604" width="3" height="1"/>
<rect x="2641" y="669" width="3" height="1"/>
<rect x="2641" y="734" width="3" height="1"/>
<rect x="2641" y="799" width="3" height="1"/>
<rect x="2641" y="864" width="3" height="1"/>
<rect x="2641" y="929" width="3" height="1"/>
<rect x="2641" y="994" width="3" height="1"/>
<rect x="2641" y="1059" width="3" height="1"/>
<rect x="2641" y="1124" width="3" height="1"/>
<rect x="2641" y="1189" width="3" height="1"/>
<rect x="2641" y="1254" width="3" height="1"/>
<rect x="2641" y="1293" width="3" height="1"/>
<rect x="3" y="1486" width="1" height="4"/>
<rect x="131" y="1486" width="1" height="4"/>
<rect x="259" y="1486" width="1" height="4"/>
<rect x="387" y="1486" width="1" height="4"/>
<rect x="515" y="1486" width="1" height="4"/>
<rect x="643" y="1486" width="1" height="4"/>
<rect x="771" y="1486" width="1" height="4"/>
<rect x="899" y="1486" width="1" height="4"/>
<rect x="1027" y="1486" width="1" height="4"/>
<rect x="1155" y="1486" width="1" height="4"/>
<rect x="1283" y="1486" width="1" height="4"/>
<rect x="1411" y="1486" width="1" height="4"/>
<rect x="1539" y="1486" width="1" height="4"/>
<rect x="1667" y="1486" width="1" height="4"/>
<rect x="1795" y="1486" width="1" height="4"/>
<rect x="1923" y="1486" width="1" height="4"/>
<rect x="2051" y="1486" width="1" height="4"/>
</g>
<g class="t">
<text x="2649.5" y="26.6" textLength="66.7">1923.35</text>
<text x="2649.5" y="91.6" textLength="66.7">1913.00</text>
<text x="2649.5" y="156.6" textLength="66.7">1902.50</text>
<text x="2649.5" y="221.6" textLength="66.7">1892.00</text>
<text x="2649.5" y="286.6" textLength="66.7">1881.50</text>
<text x="2649.5" y="351.6" textLength="66.7">1871.00</text>
<text x="2649.5" y="416.6" textLength="66.7">1860.50</text>
<text x="2649.5" y="481.6" textLength="66.7">1850.15</text>
<text x="2649.5" y="546.6" textLength="66.7">1839.65</text>
<text x="2649.5" y="611.6" textLength="66.7">1829.15</text>
<text x="2649.5" y="676.6" textLength="66.7">1818.65</text>
<text x="2649.5" y="741.6" textLength="66.7">1808.15</text>
<text x="2649.5" y="806.6" textLength="66.7">1797.80</text>
<text x="2649.5" y="871.6" textLength="66.7">1787.30</text>
<text x="2649.5" y="936.6" textLength="66.7">1776.80</text>
<text x="2649.5" y="1001.6" textLength="66.7">1766.30</text>
<text x="2649.5" y="1066.6" textLength="66.7">1755.80</text>
<text x="2649.5" y="1131.6" textLength="66.7">1745.45</text>
<text x="2649.5" y="1196.6" textLength="66.7">1734.95</text>
<text x="2649.5" y="1261.6" textLength="66.7">1724.45</text>
<text x="2" y="1507.5" textLength="98.7">12 Apr 2021</text>
<text x="130" y="1507.5" textLength="106.7">14 Apr 17:00</text>
<text x="258" y="1507.5" textLength="106.7">19 Apr 09:00</text>
<text x="386" y="1507.5" textLength="106.7">22 Apr 01:00</text>
<text x="514" y="1507.5" textLength="106.7">26 Apr 17:00</text>
<text x="642" y="1507.5" textLength="106.7">29 Apr 09:00</text>
<text x="770" y="1507.5" textLength="103.6">4 May 01:00</text>
<text x="898" y="1507.5" textLength="103.6">6 May 17:00</text>
<text x="1026" y="1507.5" textLength="112.6">11 May 09:00</text>
<text x="1154" y="1507.5" textLength="114.0">14 May 01:00</text>
<text x="1282" y="1507.5" textLength="114.0">18 May 17:00</text>
<text x="1410" y="1507.5" textLength="114.0">21 May 09:00</text>
<text x="1538" y="1507.5" textLength="114.0">26 May 01:00</text>
<text x="1666" y="1507.5" textLength="114.0">28 May 17:00</text>
<text x="1794" y="1507.5" textLength="98.3">2 Jun 13:00</text>
<text x="1922" y="1507.5" textLength="98.3">7 Jun 05:00</text>
<text x="2050" y="1507.5" textLength="98.3">9 Jun 21:00</text>
<text x="2645" y="1312">100</text>
<text x="2643" y="1338.7">80</text>
<text x="2643" y="1453.6">20</text>
<text x="2645" y="1479.5">0</text>
<text x="29" y="24" textLength="100.5">XAUUSD,H4</text>
<text x="141" y="24" textLength="282.3">1888.69 1895.05 1887.71 1893.78</text>
<text x="7" y="1313.4">Stoch(5,3,3) 69.2105 43.2015</text>
</g>
<path d="M6 13h13l-6.5 7z" fill="#000"/>
<g class="t" style="fill:#A0A0A0;stroke:#A0A0A0" text-anchor="end">
<text x="2639" y="543.7">38.2 @ 1838.12</text>
<text x="2639" y="997.7">50.0 @ 1764.98</text>
</g>
<rect x="2642" y="192" width="80" height="22" fill="#000" shape-rendering="crispEdges"/>
<text class="t" x="2649.5" y="210" textLength="66.7" style="fill:#fff;stroke:#fff">1893.78</text>
<g style="font-family:'Liberation Sans',Arial,sans-serif">
<clipPath id="chalo"><rect x="40" y="1286" width="260" height="8"/></clipPath>
<text clip-path="url(#chalo)" x="50" y="1311.5" font-size="46" textLength="243" lengthAdjust="spacingAndGlyphs" fill="#fff" stroke="#fff" stroke-width="5" stroke-linejoin="round" font-weight="bold">economies</text>
<text x="50" y="1311.5" font-size="46" textLength="243" lengthAdjust="spacingAndGlyphs" fill="#FDDAC4" stroke="#FDDAC4" stroke-width="1.2" stroke-linejoin="round" stroke-linecap="round" font-weight="bold">economies</text>
<text x="294" y="1311.5" font-size="48" textLength="96" lengthAdjust="spacingAndGlyphs" fill="#E4E4E4">.com</text>
</g>
<g style="font-family:'Liberation Sans',Arial,sans-serif;font-weight:bold" fill-opacity="0.8">
<text x="89" y="1351" font-size="43" textLength="19" lengthAdjust="spacingAndGlyphs" fill="#C9C9C9">F</text>
<text x="137" y="1351" font-size="43" textLength="32" lengthAdjust="spacingAndGlyphs" fill="#C4C4C4">N</text>
<text x="169" y="1351" font-size="43" textLength="66" lengthAdjust="spacingAndGlyphs" fill="#D8D8D8">ews</text>
<text x="235" y="1351" font-size="43" textLength="111" lengthAdjust="spacingAndGlyphs" fill="#CFCFCF">Today</text>
</g>
<polyline points="111.5,1329 120.2,1337.2 131.1,1329" fill="none" stroke="#E0A8A8" stroke-opacity="0.8" stroke-width="2.5"/>
<polyline points="113.7,1348 124.6,1339.3 134.3,1348" fill="none" stroke="#B0D4B0" stroke-opacity="0.8" stroke-width="2.5"/>
<defs>
<linearGradient id="gTL" x1="0" y1="1" x2="1" y2="0"><stop offset="0" stop-color="#C8C8CC"/><stop offset="0.5" stop-color="#FFFFFF"/><stop offset="1" stop-color="#B0B0B0"/></linearGradient>
<linearGradient id="gBL" x1="0" y1="0" x2="1" y2="1"><stop offset="0" stop-color="#D8C820"/><stop offset="1" stop-color="#F0E030"/></linearGradient>
<linearGradient id="gBR" x1="1" y1="0" x2="0" y2="1"><stop offset="0" stop-color="#6A5018"/><stop offset="1" stop-color="#A88A28"/></linearGradient>
</defs>
<rect x="2571" y="1484" width="38" height="3" fill="#fff"/>
<rect x="2584" y="1485" width="12" height="1" fill="#000"/>
<rect x="2625" y="1474" width="15" height="12" fill="#fff"/>
<rect x="2632" y="1485" width="2" height="1" fill="#000"/><rect x="2639" y="1485" width="2" height="1" fill="#000"/>
<path d="M2567.0 1490.0L2590.0 1467.0L2590.0 1473.5L2573.5 1490.0Z" fill="url(#gTL)"/>
<path d="M2590.0 1467.0L2613.0 1490.0L2606.5 1490.0L2590.0 1473.5Z" fill="#4A4648"/>
<path d="M2613.0 1490.0L2590.0 1513.0L2590.0 1506.5L2606.5 1490.0Z" fill="url(#gBR)"/>
<path d="M2590.0 1513.0L2567.0 1490.0L2573.5 1490.0L2590.0 1506.5Z" fill="url(#gBL)"/>
<path d="M2573.5 1490.0L2590.0 1473.5L2590.0 1478.5L2578.5 1490.0Z" fill="#3E3A3A"/>
<path d="M2590.0 1473.5L2606.5 1490.0L2601.5 1490.0L2590.0 1478.5Z" fill="#E8E8EC"/>
<path d="M2606.5 1490.0L2590.0 1506.5L2590.0 1501.5L2601.5 1490.0Z" fill="#B89A28"/>
<path d="M2590.0 1506.5L2573.5 1490.0L2578.5 1490.0L2590.0 1501.5Z" fill="#6A4E18"/>
<path d="M2590.0 1482.7L2597.3 1490.0L2590.0 1497.3L2582.7 1490.0ZM2590.0 1486.3L2586.3 1490.0L2590.0 1493.7L2593.7 1490.0Z" fill="#7AB32E" fill-rule="evenodd"/>
<rect x="2582" y="1489.7" width="16" height="0.8" fill="#fff"/>
<path d="M2635 1473.5l3.5-1.5l-2.5 3.5z" fill="#7AB32E"/>
<circle cx="2629" cy="1480" r="5.5" fill="none" stroke="#E4EED8" stroke-width="1"/>
<g style="font-family:'Liberation Sans','Noto Sans CJK TC','Noto Sans CJK SC',sans-serif;font-weight:bold" font-size="17" fill="#8C8C96">
<text x="2622" y="1505.5">漢</text>
<text x="2652" y="1505.5">聲</text>
<text x="2682" y="1505.5">集</text>
<text x="2712" y="1505.5">團</text>
</g>
</svg>
</body></html>
